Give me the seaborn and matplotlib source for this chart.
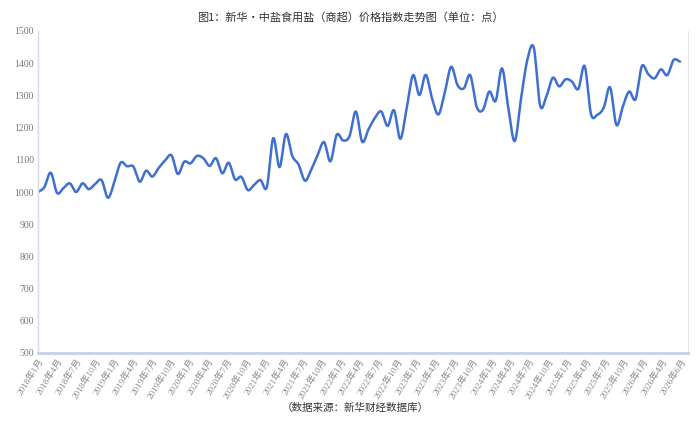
import numpy as np
import pandas as pd
import matplotlib
matplotlib.use("Agg")
import matplotlib.pyplot as plt
import seaborn as sns

# ---------------- data ----------------
start_year, start_month = 2018, 1
index_values = [
    1000, 1015, 1060, 997, 1012, 1027, 1000, 1027, 1009, 1025, 1037, 982,   # 2018
    1030, 1091, 1080, 1079, 1032, 1066, 1048, 1075, 1098, 1114, 1056, 1094,  # 2019
    1089, 1112, 1105, 1081, 1105, 1058, 1091, 1039, 1047, 1006, 1022, 1037,  # 2020
    1015, 1167, 1077, 1180, 1112, 1085, 1035, 1070, 1115, 1155, 1095, 1178,  # 2021
    1160, 1173, 1250, 1156, 1195, 1230, 1250, 1205, 1254, 1165, 1260, 1363,  # 2022
    1301, 1364, 1290, 1241, 1310, 1389, 1332, 1322, 1363, 1265, 1255, 1312,  # 2023
    1283, 1384, 1260, 1158, 1291, 1412, 1448, 1268, 1298, 1355, 1328, 1350,  # 2024
    1343, 1320, 1391, 1242, 1240, 1262, 1325, 1208, 1265, 1312, 1288, 1391,  # 2025
    1366, 1353, 1381, 1363, 1410, 1405,                                      # 2026
]
tick_labels = [
    "2018年1月", "2018年4月", "2018年7月", "2018年10月",
    "2019年1月", "2019年4月", "2019年7月", "2019年10月",
    "2020年1月", "2020年4月", "2020年7月", "2020年10月",
    "2021年1月", "2021年4月", "2021年7月", "2021年10月",
    "2022年1月", "2022年4月", "2022年7月", "2022年10月",
    "2023年1月", "2023年4月", "2023年7月", "2023年10月",
    "2024年1月", "2024年4月", "2024年7月", "2024年10月",
    "2025年1月", "2025年4月", "2025年7月", "2025年10月",
    "2026年1月", "2026年4月", "2026年6月",
]
y_ticks = [500, 600, 700, 800, 900, 1000, 1100, 1200, 1300, 1400, 1500]
title_text = "图1：新华•中盐食用盐（商超）价格指数走势图（单位：点）"
source_text = "（数据来源：新华财经数据库）"

# ---------------- smoothing for drawing (Catmull-Rom, like a smoothed line) ----------------
def catmull_rom(x, y, n=12):
    x = np.asarray(x, float); y = np.asarray(y, float)
    px = np.concatenate([[2 * x[0] - x[1]], x, [2 * x[-1] - x[-2]]])
    py = np.concatenate([[2 * y[0] - y[1]], y, [2 * y[-1] - y[-2]]])
    xs, ys = [], []
    t = np.linspace(0, 1, n, endpoint=False)
    for i in range(1, len(px) - 2):
        p0, p1, p2, p3 = py[i - 1], py[i], py[i + 1], py[i + 2]
        q0, q1, q2, q3 = px[i - 1], px[i], px[i + 1], px[i + 2]
        def cr(a0, a1, a2, a3):
            return 0.5 * ((2 * a1) + (-a0 + a2) * t + (2 * a0 - 5 * a1 + 4 * a2 - a3) * t ** 2
                          + (-a0 + 3 * a1 - 3 * a2 + a3) * t ** 3)
        xs.append(cr(q0, q1, q2, q3)); ys.append(cr(p0, p1, p2, p3))
    xs.append([x[-1]]); ys.append([y[-1]])
    return np.concatenate(xs), np.concatenate(ys)

idx = np.arange(len(index_values))
sx, sy = catmull_rom(idx, index_values)
df = pd.DataFrame({"pos": sx, "value": sy})

# ---------------- figure ----------------
sns.set_theme(style="white")
plt.rcParams["font.family"] = ["Noto Sans CJK SC", "DejaVu Sans"]

fig = plt.figure(figsize=(6.97, 4.25), dpi=100)
ax = fig.add_axes([38 / 697, 1 - 353 / 425, (688 - 38) / 697, (353 - 31) / 425])

sns.lineplot(data=df, x="pos", y="value", ax=ax, color="#3f6fd1", linewidth=1.8,
             estimator=None, sort=False)

ax.set_xlim(0, (len(index_values) - 1) * (688 - 38) / (680 - 38))
ax.set_ylim(500, 1500)
ax.set_yticks(y_ticks)
ax.set_yticklabels([str(v) for v in y_ticks], fontsize=7, color="#777777",
                   family=["Liberation Serif", "Noto Sans CJK SC"])
tick_pos = np.linspace(0, len(index_values) - 1, len(tick_labels))
ax.set_xticks(tick_pos)
ax.set_xticklabels(tick_labels, rotation=58, ha="right", rotation_mode="anchor",
                   fontsize=6.6, color="#8a8a8a",
                   family=["Liberation Serif", "Noto Sans CJK SC"])
ax.tick_params(axis="both", length=0, pad=3)
ax.set_xlabel(""); ax.set_ylabel("")

ax.spines["top"].set_visible(False)
ax.spines["left"].set_color("#d5dbe8"); ax.spines["left"].set_linewidth(1.0)
ax.spines["right"].set_color("#e4e4e4"); ax.spines["right"].set_linewidth(0.8)
ax.spines["bottom"].set_color("#c9d3ea"); ax.spines["bottom"].set_linewidth(2.2)

fig.text(350 / 697, 1 - 17 / 425, title_text, ha="center", va="center",
         fontsize=8, color="#333333")
fig.text(355 / 697, 1 - 408 / 425, source_text, ha="center", va="center",
         fontsize=7.6, color="#333333")

fig.savefig("out.png", dpi=100)
